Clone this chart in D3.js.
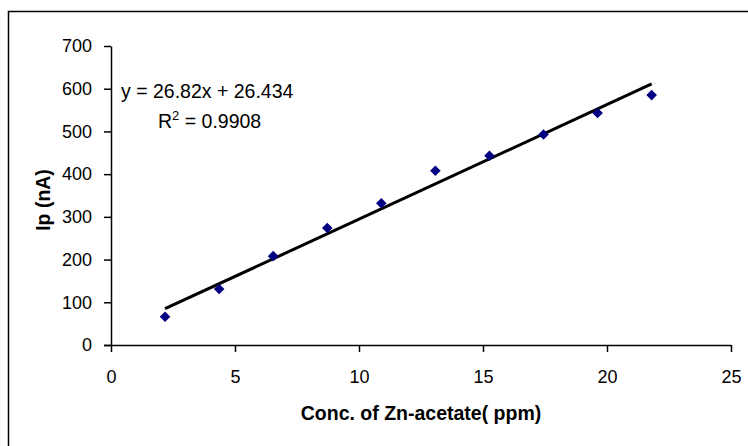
<!DOCTYPE html>
<html><head><meta charset="utf-8">
<script src="https://cdn.jsdelivr.net/npm/d3@7"></script>
<style>body{margin:0;background:#fff}svg{display:block}</style>
</head><body>
<script>
const concX = [2.18, 4.36, 6.54, 8.72, 10.9, 13.08, 15.26, 17.44, 19.62, 21.8];
const currentY = [66, 131, 208, 274, 332, 408, 443, 493, 543, 585];
const xTicks = [0, 5, 10, 15, 20, 25];
const yTicks = [0, 100, 200, 300, 400, 500, 600, 700];
const slope = 26.82, intercept = 26.434;
const eqText = "y = 26.82x + 26.434";
const r2Text = "0.9908";

const W = 748, H = 446;
const svg = d3.select("body").append("svg").attr("width", W).attr("height", H);
const font = "Liberation Sans, Arial, sans-serif";

// frame
svg.append("path").attr("d", `M8.5,${H} V11.5 H${W}`).attr("fill","none").attr("stroke","#000").attr("stroke-width",1.5);

const x = d3.scaleLinear().domain([0,25]).range([111,731]);
const y = d3.scaleLinear().domain([0,700]).range([345,46]);

const gx = svg.append("g").attr("transform","translate(0,345)")
  .call(d3.axisBottom(x).tickValues(xTicks).tickSize(7).tickSizeOuter(0).tickPadding(18));
const gy = svg.append("g").attr("transform","translate(111,0)")
  .call(d3.axisLeft(y).tickValues(yTicks).tickSize(7).tickSizeOuter(0).tickPadding(12));
[gx, gy].forEach(g => {
  g.select(".domain").attr("stroke","#000").attr("stroke-width",1.5);
  g.selectAll(".tick line").attr("stroke","#000").attr("stroke-width",1.5);
  g.selectAll(".tick text").attr("font-family",font).attr("font-size",18).attr("fill","#000");
});
gx.select(".domain").attr("d", `M104,0.5H${x(25)}`);

// trendline
svg.append("line")
  .attr("x1", x(concX[0])).attr("y1", y(slope*concX[0]+intercept))
  .attr("x2", x(concX[concX.length-1])).attr("y2", y(slope*concX[concX.length-1]+intercept))
  .attr("stroke","#000").attr("stroke-width",3);

// points
const sym = d3.symbol().type(d3.symbolSquare).size(56);
svg.append("g").selectAll("path").data(concX).join("path")
  .attr("d", sym)
  .attr("transform",(d,i)=>`translate(${x(d)},${y(currentY[i])}) rotate(45)`)
  .attr("fill","#000080");

// equation
svg.append("text").attr("x",121).attr("y",98).attr("font-family",font).attr("font-size",19.5).text(eqText);
const r = svg.append("text").attr("x",158).attr("y",128).attr("font-family",font).attr("font-size",19.5);
r.append("tspan").text("R");
r.append("tspan").attr("font-size",13).attr("dy",-8).text("2");
r.append("tspan").attr("dy",8).text(" = " + r2Text);

// axis titles
svg.append("text").attr("x",421).attr("y",420).attr("text-anchor","middle")
  .attr("font-family",font).attr("font-size",19.5).attr("font-weight","bold").text("Conc. of Zn-acetate( ppm)");
svg.append("text").attr("transform","translate(50,200) rotate(-90)").attr("text-anchor","middle")
  .attr("font-family",font).attr("font-size",19.5).attr("font-weight","bold").text("Ip (nA)");
</script>
</body></html>
